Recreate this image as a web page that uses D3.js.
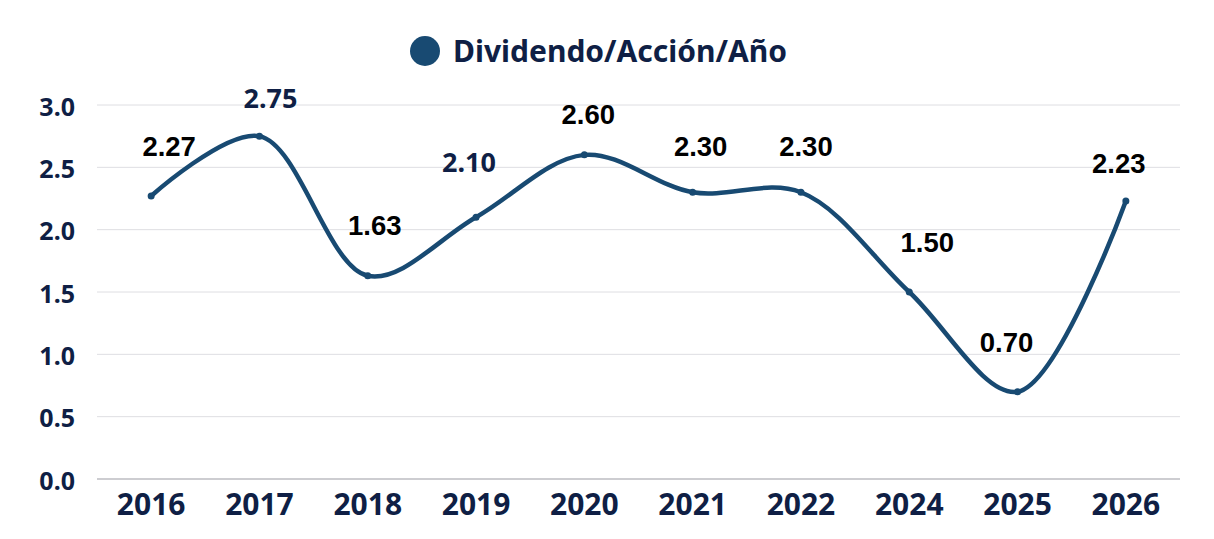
<!DOCTYPE html>
<html>
<head>
<meta charset="utf-8">
<script src="https://cdn.jsdelivr.net/npm/d3@7"></script>
<style>
  body { margin: 0; background: #fff; }
  .axisText { font-family: 'Noto Sans', sans-serif; font-weight: 700; fill: #0f1f45; }
  .valueLabel { font-family: 'Liberation Sans', Arial, sans-serif; font-weight: 700; fill: #000; }
  .valueLabel.navy { font-family: 'Noto Sans', sans-serif; fill: #0f1f45; }
</style>
</head>
<body>
<svg id="chart"></svg>
<script>
const years = ['2016', '2017', '2018', '2019', '2020', '2021', '2022', '2024', '2025', '2026'];
const dividends = [2.27, 2.75, 1.63, 2.10, 2.60, 2.30, 2.30, 1.50, 0.70, 2.23];
const yTicks = [0, 0.5, 1.0, 1.5, 2.0, 2.5, 3.0];
const seriesName = 'Dividendo/Acción/Año';

// hand placed label nudges (px) as in the original
const labelDx = [18, 11, 7, -7, 4, 8, 5, 18, -11, -7];
const labelLift = [40, 28, 41, 45, 31, 36, 36, 40, 40, 28];
const navyLabels = ['2017', '2019'];

const width = 1214, height = 539;
const margin = {top: 105, right: 34, bottom: 60, left: 97};
const lineColor = '#184a72';

const svg = d3.select('#chart').attr('width', width).attr('height', height);

const x = d3.scaleBand().domain(years).range([margin.left, width - margin.right]);
const y = d3.scaleLinear().domain([0, 3]).range([height - margin.bottom, margin.top]);
const cx = d => x(d) + x.bandwidth() / 2;

// gridlines
svg.append('g')
    .selectAll('line')
    .data(yTicks)
    .join('line')
    .attr('x1', margin.left)
    .attr('x2', width - margin.right)
    .attr('y1', d => y(d))
    .attr('y2', d => y(d))
    .attr('stroke', d => d === 0 ? '#bdbdc2' : '#dedee2')
    .attr('stroke-width', d => d === 0 ? 1.5 : 1);

// y labels
svg.append('g')
    .selectAll('text')
    .data(yTicks)
    .join('text')
    .attr('class', 'axisText')
    .attr('x', 75)
    .attr('y', d => y(d) + 2)
    .attr('dy', '0.35em')
    .attr('text-anchor', 'end')
    .style('font-size', '25px')
    .text(d => d3.format('.1f')(d));

// x labels
svg.append('g')
    .selectAll('text')
    .data(years)
    .join('text')
    .attr('class', 'axisText')
    .attr('x', d => cx(d))
    .attr('y', 504)
    .attr('dy', '0.35em')
    .attr('text-anchor', 'middle')
    .style('font-size', '30px')
    .text(d => d);

// legend
const legend = svg.append('g').attr('transform', 'translate(425, 51)');
legend.append('circle').attr('r', 15).attr('fill', lineColor);
legend.append('text')
    .attr('class', 'axisText')
    .attr('x', 28)
    .attr('dy', '0.35em')
    .style('font-size', '30px')
    .text(seriesName);

const pts = years.map((yr, i) => ({year: yr, value: dividends[i], i: i}));

const line = d3.line()
    .x(d => cx(d.year))
    .y(d => y(d.value))
    .curve(d3.curveCatmullRom.alpha(0.5));

svg.append('path')
    .datum(pts)
    .attr('d', line)
    .attr('fill', 'none')
    .attr('stroke', lineColor)
    .attr('stroke-width', 4.5)
    .attr('stroke-linecap', 'round');

svg.append('g')
    .selectAll('circle')
    .data(pts)
    .join('circle')
    .attr('cx', d => cx(d.year))
    .attr('cy', d => y(d.value))
    .attr('r', 3.5)
    .attr('fill', lineColor);

svg.append('g')
    .selectAll('text')
    .data(pts)
    .join('text')
    .attr('class', d => navyLabels.includes(d.year) ? 'valueLabel navy' : 'valueLabel')
    .attr('x', d => cx(d.year) + labelDx[d.i])
    .attr('y', d => y(d.value) - labelLift[d.i])
    .attr('text-anchor', 'middle')
    .style('font-size', d => navyLabels.includes(d.year) ? '27px' : '27.5px')
    .text(d => d3.format('.2f')(d.value));
</script>
</body>
</html>
